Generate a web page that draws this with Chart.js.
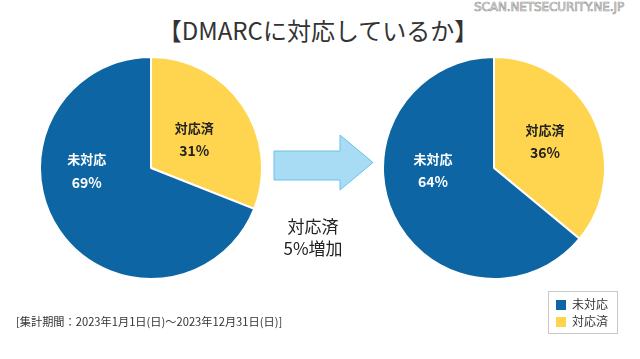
<!DOCTYPE html>
<html><head><meta charset="utf-8">
<script src="https://cdn.jsdelivr.net/npm/chart.js@4"></script>
<style>
html,body{margin:0;padding:0;background:#fff;}
body{width:640px;height:359px;position:relative;overflow:hidden;font-family:"Noto Sans CJK JP","Noto Sans",sans-serif;color:#333;}
.abs{position:absolute;}
#title{left:0;width:636px;top:12px;text-align:center;font-size:24px;color:#333;line-height:36px;}
#wm{left:474px;top:0px;font-family:"DejaVu Sans","Noto Sans",sans-serif;font-size:12px;color:#fff;-webkit-text-stroke:0.7px #9a9a9a;letter-spacing:-0.1px;}
#c1wrap{left:39px;top:56px;width:224px;height:224px;}
#c2wrap{left:382px;top:56px;width:224px;height:224px;}
#inc{left:263px;top:215px;width:100px;text-align:center;font-size:17px;line-height:22px;color:#222;}
#foot{left:16px;top:313px;font-size:11.2px;color:#333;}
#legend{left:548px;top:291px;width:70px;height:43px;border:1px solid #c8c8c8;box-sizing:border-box;font-size:12px;color:#333;}
.li{position:absolute;left:7px;height:16px;line-height:16px;}
.sw{display:inline-block;width:10px;height:10px;vertical-align:-1px;margin-right:6px;}
</style></head>
<body>
<div id="title" class="abs">【DMARCに対応しているか】</div>
<div id="wm" class="abs">SCAN.NETSECURITY.NE.JP</div>
<div id="c1wrap" class="abs"><canvas id="c1" width="224" height="224"></canvas></div>
<div id="c2wrap" class="abs"><canvas id="c2" width="224" height="224"></canvas></div>
<svg class="abs" style="left:0;top:0" width="640" height="359">
<polygon points="274,151 340,151 340,135 373,162.5 340,190 340,180 274,180" fill="#a8dcf5" stroke="#6cbfe9" stroke-width="1"/>
</svg>
<div id="inc" class="abs"></div>
<div id="foot" class="abs"></div>
<div id="legend" class="abs"></div>
<script>
const categories = ['対応済', '未対応'];
const before2023 = [31, 69];
const after2023 = [36, 64];
const legendOrder = ['未対応', '対応済'];
const colors = {'対応済':'#ffd54f', '未対応':'#0d66a3'};
const labelColors = {'対応済':'#222222', '未対応':'#ffffff'};
const increaseText = ['対応済', '5%増加'];
const footnote = '[集計期間：2023年1月1日(日)～2023年12月31日(日)]';

document.getElementById('inc').innerHTML = increaseText.join('<br>');
document.getElementById('foot').textContent = footnote;
const lg = document.getElementById('legend');
legendOrder.forEach((name, i) => {
  const d = document.createElement('div');
  d.className = 'li';
  d.style.top = (4 + i*17) + 'px';
  d.innerHTML = '<span class="sw" style="background:' + colors[name] + '"></span>' + name;
  lg.appendChild(d);
});

const sliceLabels = {
  id: 'sliceLabels',
  afterDatasetsDraw(chart, args, opts) {
    const ctx = chart.ctx;
    const meta = chart.getDatasetMeta(0);
    const data = chart.data.datasets[0].data;
    meta.data.forEach((arc, i) => {
      const p = arc.getProps(['x','y','startAngle','endAngle','outerRadius'], true);
      const name = chart.data.labels[i];
      const o = opts.place[name];
      const a = (o.angle !== undefined) ? o.angle * Math.PI/180 : (p.startAngle + p.endAngle)/2;
      const r = p.outerRadius * o.r;
      const cx = p.x + Math.cos(a)*r;
      const cy = p.y + Math.sin(a)*r;
      ctx.save();
      ctx.fillStyle = labelColors[name];
      ctx.textAlign = 'center';
      ctx.textBaseline = 'middle';
      ctx.font = 'bold 13px "Noto Sans CJK JP", sans-serif';
      ctx.fillText(name, cx, cy - 11);
      ctx.font = 'bold 14px "Noto Sans CJK JP", sans-serif';
      ctx.fillText(data[i] + '%', cx, cy + 12);
      ctx.restore();
    });
  }
};

function makePie(id, values, place) {
  return new Chart(document.getElementById(id), {
    type: 'pie',
    data: {
      labels: categories,
      datasets: [{
        data: values,
        backgroundColor: categories.map(c => colors[c]),
        borderColor: '#ffffff',
        borderWidth: 2
      }]
    },
    options: {
      responsive: false,
      animation: false,
      layout: {padding: 0},
      plugins: {
        legend: {display: false},
        tooltip: {enabled: false},
        sliceLabels: {place: place}
      }
    },
    plugins: [sliceLabels]
  });
}
makePie('c1', before2023, {'対応済': {r: 0.47}, '未対応': {angle: 178, r: 0.58}});
makePie('c2', after2023, {'対応済': {angle: -28, r: 0.52}, '未対応': {angle: 178, r: 0.55}});
</script>
</body></html>
